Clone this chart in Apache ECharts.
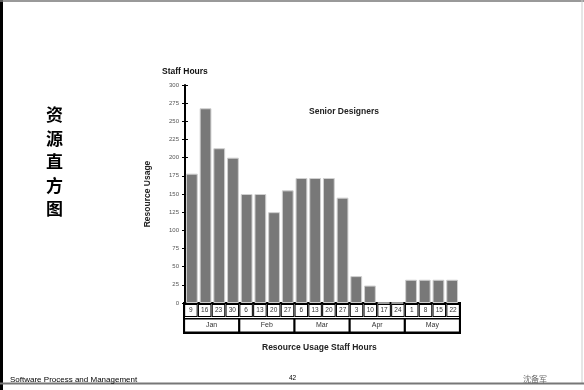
<!DOCTYPE html>
<html>
<head>
<meta charset="utf-8">
<script src="https://cdn.jsdelivr.net/npm/echarts@6/dist/echarts.min.js"></script>
<style>
  html, body { margin: 0; padding: 0; background: #fff; }
  #chart { width: 584px; height: 390px; }
</style>
</head>
<body>
<div id="chart"></div>
<script>
// Weekly staff hours for the senior designers, Jan–May
const weekDays = ['9','16','23','30','6','13','20','27','6','13','20','27','3','10','17','24','1','8','15','22'];
const months = ['Jan','Feb','Mar','Apr','May'];
const staffHours = [178, 268, 213, 200, 150, 150, 125, 155, 172, 172, 172, 145, 37, 24, 0, 0, 32, 32, 32, 32];
const yMin = 0, yMax = 300, yStep = 25;

const chart = echarts.init(document.getElementById('chart'), null, { renderer: 'canvas' });

const plotLeft = 185, plotRight = 125;
const sansFont = 'Liberation Sans, Arial, sans-serif';

function label(text, left, top, style) {
  return { text, left, top, padding: 0, textStyle: Object.assign({ fontFamily: sansFont, color: '#222' }, style) };
}

chart.setOption({
  animation: false,
  backgroundColor: '#fff',
  title: [
    label('资\n源\n直\n方\n图', 46, 103,
      { fontFamily: 'Noto Sans CJK SC', fontSize: 17, fontWeight: 'bold', lineHeight: 23.5, color: '#000' }),
    label('Staff Hours', 162, 67, { fontSize: 8.5, fontWeight: 'bold', color: '#111' }),
    label('Senior Designers', 309, 107, { fontSize: 8.5, fontWeight: 'bold' }),
    label('Resource Usage Staff Hours', 262, 343, { fontSize: 8.5, fontWeight: 'bold' }),
    label('Software Process and Management', 10, 376, { fontSize: 8, fontWeight: 'normal', color: '#000' }),
    label('42', 289, 375, { fontSize: 6.5, fontWeight: 'normal', color: '#000' }),
    label('沈备军', 523, 375, { fontFamily: 'Noto Sans CJK SC', fontSize: 8, fontWeight: 'normal', color: '#666' })
  ],
  graphic: [
    // page frame
    { type: 'rect', shape: { x: 0, y: 0, width: 3, height: 390 }, style: { fill: '#000' } },
    { type: 'line', shape: { x1: 0, y1: 1, x2: 584, y2: 1 }, style: { stroke: '#777', lineWidth: 1.5 } },
    { type: 'line', shape: { x1: 582, y1: 0, x2: 582, y2: 384 }, style: { stroke: '#ccc', lineWidth: 1 } },
    { type: 'line', shape: { x1: 0, y1: 383.5, x2: 584, y2: 383.5 }, style: { stroke: '#777', lineWidth: 2 } }
  ],
  grid: [
    { left: plotLeft, right: plotRight, top: 85, bottom: 87, containLabel: false },
    { left: plotLeft - 1, right: plotRight - 1, top: 303, bottom: 57, show: true,
      borderColor: '#000', borderWidth: 2, backgroundColor: 'transparent' }
  ],
  xAxis: [
    { type: 'category', gridIndex: 0, data: weekDays,
      axisLine: { show: true, lineStyle: { color: '#000', width: 2 } },
      axisTick: { show: false }, axisLabel: { show: false }, splitLine: { show: false } },
    { type: 'category', gridIndex: 1, position: 'top', data: weekDays,
      axisLine: { show: false }, axisTick: { show: false }, splitLine: { show: false },
      axisLabel: { inside: true, margin: 2, interval: 0, fontFamily: sansFont, fontSize: 6.5, color: '#333',
        width: 9.5, height: 11, lineHeight: 11, align: 'center', verticalAlign: 'top',
        borderColor: '#000', borderWidth: 1, padding: [0, 1, 0, 1], backgroundColor: '#fff' } },
    { type: 'category', gridIndex: 1, position: 'bottom', data: months,
      axisLine: { show: false }, axisTick: { show: false }, splitLine: { show: false },
      axisLabel: { inside: true, margin: 1.5, interval: 0, fontFamily: sansFont, fontSize: 7, color: '#333',
        width: 51, height: 12, lineHeight: 12, align: 'center', verticalAlign: 'bottom',
        borderColor: '#000', borderWidth: 1.5, padding: [0, 1, 0, 1], backgroundColor: '#fff' } }
  ],
  yAxis: [
    { type: 'value', gridIndex: 0, min: yMin, max: yMax, interval: yStep,
      name: 'Resource Usage', nameLocation: 'middle', nameGap: 33, nameRotate: 90,
      nameTextStyle: { fontFamily: sansFont, fontSize: 8.5, fontWeight: 'bold', color: '#222' },
      axisLine: { show: true, lineStyle: { color: '#000', width: 2 } },
      axisTick: { show: true, length: 3, lineStyle: { color: '#000', width: 1 } },
      axisLabel: { margin: 6, fontFamily: sansFont, fontSize: 6, color: '#555' },
      splitLine: { show: false } },
    // inner half of each tick mark
    { type: 'value', gridIndex: 0, min: yMin, max: yMax, interval: yStep, position: 'left',
      axisLine: { show: false }, axisLabel: { show: false }, splitLine: { show: false },
      axisTick: { show: true, inside: true, length: 3, lineStyle: { color: '#000', width: 1 } } },
    { type: 'value', gridIndex: 1, show: false, min: 0, max: 1 }
  ],
  series: [
    { type: 'bar', xAxisIndex: 0, yAxisIndex: 0, data: staffHours,
      barCategoryGap: '14%',
      itemStyle: { color: '#787878', borderColor: '#cfcfcf', borderWidth: 1 } }
  ]
});
</script>
</body>
</html>
